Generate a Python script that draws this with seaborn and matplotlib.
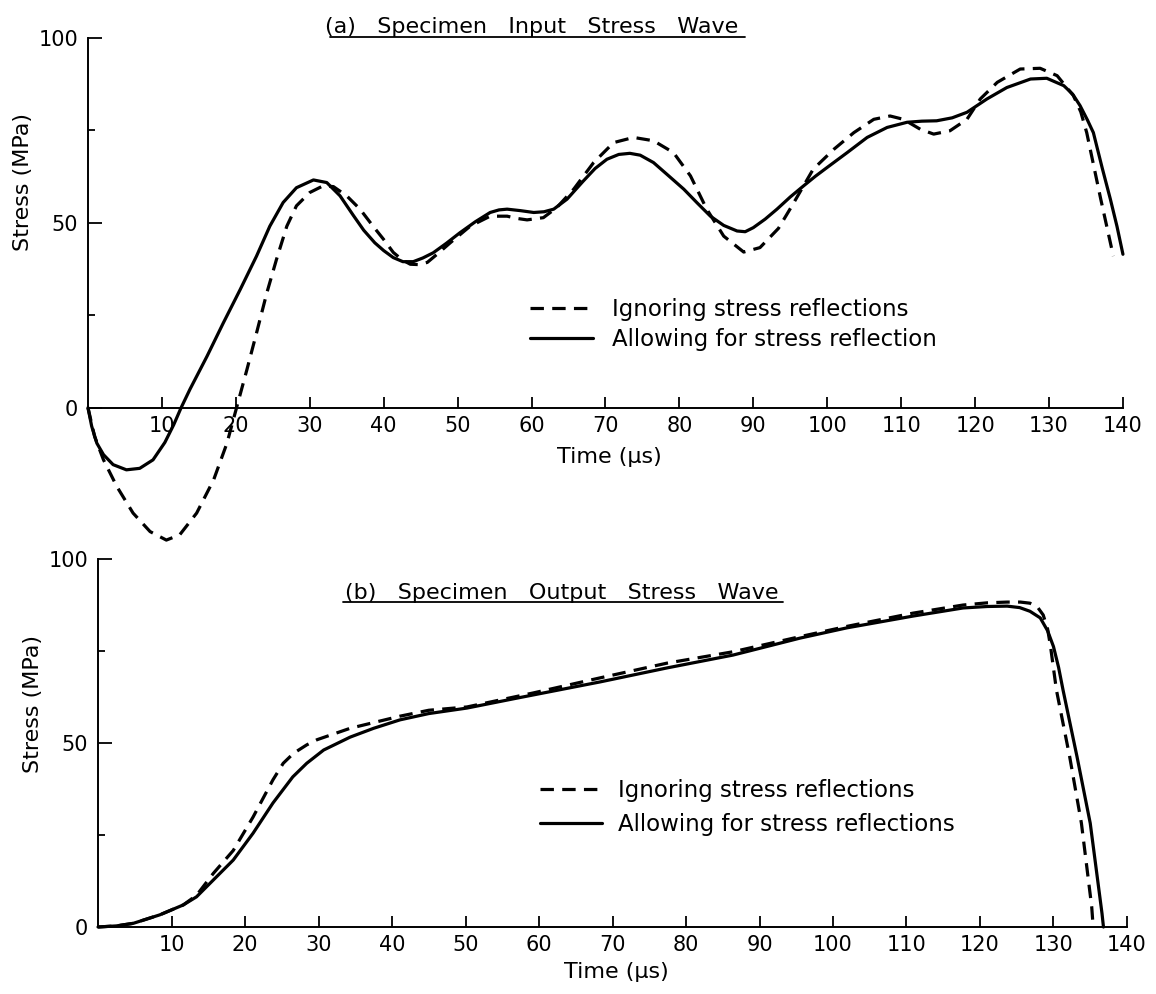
import numpy as np
import pandas as pd
import matplotlib
matplotlib.use("Agg")
import matplotlib.pyplot as plt
import seaborn as sns

# ---------------- data ----------------
# (a) Specimen input stress wave
a_solid_t = [0, 0.5, 1.2, 2.1, 3.4, 5.2, 7, 8.8, 10.4, 11.6, 12.6, 13.8, 16.1, 18.3, 20.6,
             22.8, 24.6, 26.4, 28.2, 30.5, 32.3, 34.1, 35.9, 37.3, 38.8, 40, 41.3, 42.6,
             44, 45.3, 46.7, 48.5, 50.3, 52.4, 54.4, 55.6, 56.7, 58.5, 60.3, 61.7, 63,
             64.8, 67, 68.6, 70.2, 71.8, 73.3, 74.7, 76.5, 78.5, 80.6, 82.4, 84.2, 86,
             87.8, 88.9, 90, 91.6, 93.2, 95, 96.8, 98.4, 100, 102.7, 105.4, 108.1, 110.8,
             112.8, 114.8, 116.9, 118.9, 121.6, 124.3, 127.5, 129.7, 132, 133.2, 134.2,
             135.2, 136, 137.2, 138.3, 139.2, 140]
a_solid_s = [0, -5, -9.6, -12.7, -15.4, -16.8, -16.4, -14.1, -9.4, -4.6, 0, 5, 13.9, 22.9, 32,
             41, 49.1, 55.5, 59.5, 61.6, 60.9, 57.3, 52, 48, 44.6, 42.5, 40.6, 39.5,
             39.5, 40.5, 41.9, 44.5, 47.3, 50.3, 52.8, 53.5, 53.7, 53.3, 52.8, 53, 53.7,
             56.4, 61.3, 64.7, 67.2, 68.5, 68.8, 68.3, 66.3, 62.8, 59.1, 55.4, 51.8, 49.3,
             47.8, 47.6, 48.7, 51, 53.7, 57, 60, 62.6, 65, 69, 73.1, 75.8, 77.2,
             77.5, 77.6, 78.4, 79.9, 83.5, 86.6, 88.9, 89.1, 87.1, 84.8, 81.7,
             77.8, 74.4, 64.8, 56.4, 49, 41.5]
a_dash_t = [0, 0.9, 2.1, 3.9, 6.1, 8.4, 10.6, 12.4, 14.7, 17, 18.8, 20.1, 21.5, 22.8, 24.2,
            25.5, 26.9, 28.2, 30, 31.8, 33.2, 35, 36.8, 38.6, 40, 41.3, 42.5, 43.6, 44.8,
            45.9, 47.4, 49, 51.7, 54.4, 56.7, 58, 59.4, 61.6, 63.4, 65.7, 68.4, 71.1,
            73.8, 76.5, 79.2, 81.5, 83.7, 86, 88.7, 90.9, 93.4, 95.2, 98.1, 100.9, 103.6,
            106.3, 108.5, 110.3, 112.6, 114.4, 116.6, 118.9, 120.7, 123, 126.1, 128.8,
            131.1, 133.3, 134.3, 135.1, 137, 138.7]
a_dash_s = [0, -7.8, -14.1, -21.3, -28.5, -33.5, -35.8, -34.4, -28.5, -19.5, -9.6, 0, 10.3,
            20.2, 31.1, 40.1, 49.1, 54.6, 58.2, 60, 59.8, 57.3, 53.7, 49, 45.5, 42, 40,
            38.8, 38.7, 39.3, 41.8, 44.6, 49.1, 51.8, 51.8, 51.2, 50.8, 51.4, 54.1, 59.1,
            66.3, 71.7, 73.1, 72.2, 69, 62.7, 53.7, 46.4, 42.1, 43.3, 48.5, 54.5, 64.5,
            69.9, 74.4, 78, 78.9, 78, 75.3, 74, 74.9, 78, 83.5, 88, 91.6, 91.8, 89.8,
            84.4, 80, 74.4, 56.4, 41]

# (b) Specimen output stress wave
b_solid_t = [0, 2.5, 4.8, 8.4, 11.6, 13.4, 15.7, 18.4, 21.1, 23.8, 26.5, 28.4, 30.7, 34.3,
             37.5, 41.1, 45, 50.2, 57, 68.3, 77.4, 86.4, 95.5, 101.9, 110.9, 117.7, 121,
             123.7, 125.4, 126.8, 128.2, 129.2, 130, 130.7, 131.3, 133.2, 135, 136.6, 136.8]
b_solid_s = [0, 0.3, 1, 3.3, 6, 8.2, 12.8, 18.2, 25.5, 33.7, 40.8, 44.5, 48.1, 51.6,
             54, 56.3, 58, 59.5, 62.2, 66.6, 70.4, 73.9, 78.5, 81.3, 84.5, 86.7, 87.1,
             87.2, 86.8, 85.8, 84, 80.5, 76.2, 70.5, 64.4, 46.3, 28.2, 3.7, 0]
b_dash_t = [0, 2.5, 4.8, 8.4, 11.6, 13.4, 15.7, 18.4, 21.1, 23.8, 25.2, 26.6, 28.4, 29.8,
            34.3, 41.1, 45, 50.2, 59.2, 68.3, 77.4, 86.4, 95.5, 101.9, 110.9, 117.7, 121,
            123.7, 125.5, 126.8, 127.8, 128.6, 129.2, 129.6, 130.4, 132.2, 133.8, 135.2,
            135.4]
b_dash_s = [0, 0.3, 1, 3.3, 6, 8.6, 14.6, 20.8, 29.9, 40, 44.5, 47.2, 49.5, 50.9,
            54, 57.3, 58.9, 59.8, 63.6, 67.7, 71.7, 74.8, 78.9, 81.7, 85.3, 87.5, 88.1,
            88.3, 88.3, 88, 87, 84.8, 81, 76.2, 64.4, 46.3, 28.2, 5.5,
            0]

x_ticks = [10, 20, 30, 40, 50, 60, 70, 80, 90, 100, 110, 120, 130, 140]
y_major = [0, 50, 100]
y_minor = [25, 75]

label_dash = "Ignoring stress reflections"
label_solid_a = "Allowing for stress reflection"
label_solid_b = "Allowing for stress reflections"
title_a = "(a)   Specimen   Input   Stress   Wave"
title_b = "(b)   Specimen   Output   Stress   Wave"

# ---------------- style ----------------
sns.set_theme(style="white")
plt.rcParams["font.family"] = ["DejaVu Sans"]

FS = 15
LFS = 16.5
LW = 2.3
DASH = (0, (4.2, 2.6))

fig = plt.figure(figsize=(11.56, 9.94), dpi=100)
ax_a = fig.add_axes([0.0761, 0.4522, 0.8953, 0.5096])
ax_b = fig.add_axes([0.0848, 0.0674, 0.8901, 0.3702])


def draw(ax, t_d, s_d, t_s, s_s, lab_s):
    sns.lineplot(x=np.array(t_d), y=np.array(s_d), ax=ax, color="black", lw=LW,
                 linestyle=DASH, label=label_dash, clip_on=False, sort=False,
                 estimator=None)
    sns.lineplot(x=np.array(t_s), y=np.array(s_s), ax=ax, color="black", lw=LW,
                 linestyle="-", label=lab_s, clip_on=False, sort=False,
                 estimator=None)
    ax.set_xlim(0, 140)
    for s in ["top", "right"]:
        ax.spines[s].set_visible(False)
    for s in ["left", "bottom"]:
        ax.spines[s].set_color("black")
        ax.spines[s].set_linewidth(1.4)
    ax.spines["bottom"].set_position(("data", 0))
    ax.spines["left"].set_bounds(0, 100)
    ax.spines["bottom"].set_bounds(0, 140)
    ax.set_xticks(x_ticks)
    ax.set_xticklabels([str(v) for v in x_ticks], fontsize=FS)
    ax.set_yticks(y_major)
    ax.set_yticklabels([str(v) for v in y_major], fontsize=FS)
    ax.set_yticks(y_minor, minor=True)
    ax.tick_params(axis="x", which="major", direction="in", length=8, width=1.3,
                   color="black", labelcolor="black", bottom=True, pad=6)
    ax.tick_params(axis="y", which="major", direction="in", length=10, width=1.3,
                   color="black", labelcolor="black", left=True, pad=7)
    ax.tick_params(axis="y", which="minor", direction="in", length=5, width=1.3,
                   color="black", left=True)
    ax.grid(False)
    ax.set_xlabel("Time (µs)", fontsize=16, color="black")
    ax.set_ylabel("Stress (MPa)", fontsize=16, color="black")


draw(ax_a, a_dash_t, a_dash_s, a_solid_t, a_solid_s, label_solid_a)
ax_a.set_ylim(-37, 100)
ax_a.xaxis.set_label_coords(0.504, 0.192)
ax_a.yaxis.set_label_coords(-0.053, 0.716)
ax_a.legend(loc="center left", bbox_to_anchor=(0.427, 0.435), frameon=False,
            fontsize=LFS, handlelength=2.75, handletextpad=0.85, labelspacing=0.3,
            borderpad=0, borderaxespad=0, labelcolor="black")
ax_a.text(0.429, 1.022, title_a, transform=ax_a.transAxes, ha="center", va="center",
          fontsize=16, color="black")
ax_a.plot([0.234, 0.635], [1.002, 1.002], transform=ax_a.transAxes, color="black",
          lw=1.3, clip_on=False)

draw(ax_b, b_dash_t, b_dash_s, b_solid_t, b_solid_s, label_solid_b)
ax_b.set_ylim(0, 100)
ax_b.xaxis.set_label_coords(0.504, -0.095)
ax_b.yaxis.set_label_coords(-0.053, 0.606)
ax_b.legend(loc="center left", bbox_to_anchor=(0.4295, 0.325), frameon=False,
            fontsize=LFS, handlelength=2.7, handletextpad=0.7, labelspacing=0.45,
            borderpad=0, borderaxespad=0, labelcolor="black")
ax_b.text(0.451, 0.908, title_b, transform=ax_b.transAxes, ha="center", va="center",
          fontsize=16, color="black")
ax_b.plot([0.238, 0.666], [0.883, 0.883], transform=ax_b.transAxes, color="black",
          lw=1.3, clip_on=False)

fig.savefig("out.png", dpi=100, facecolor="white")
